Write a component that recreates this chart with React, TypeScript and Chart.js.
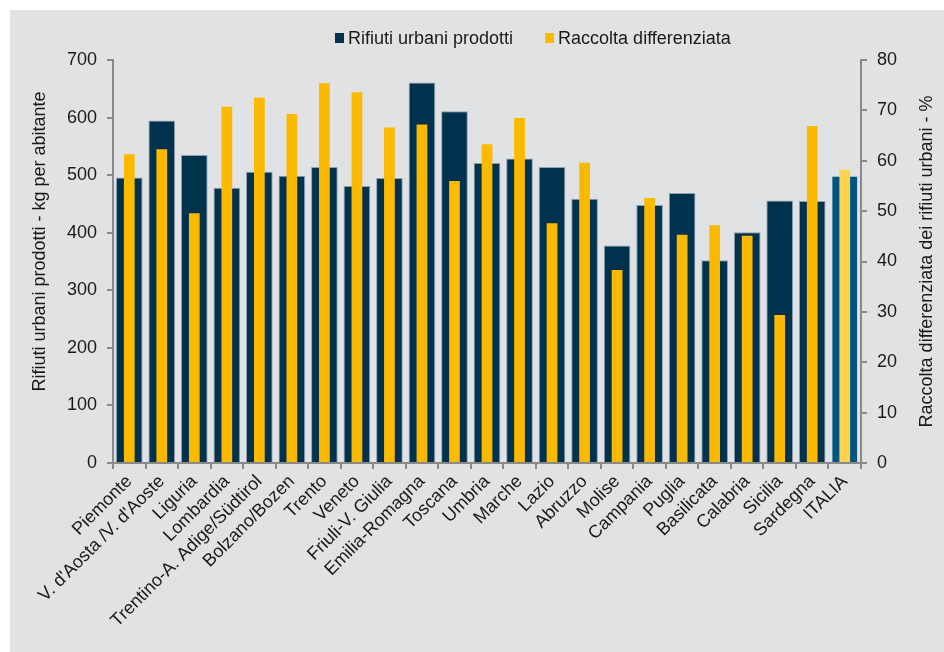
import React, { useEffect, useRef } from "react";
import { Chart, registerables } from "chart.js";

Chart.register(...registerables);

// Regions of Italy plus the national total
const regions = [
  "Piemonte",
  "V. d'Aosta /V. d'Aoste",
  "Liguria",
  "Lombardia",
  "Trentino-A. Adige/Südtirol",
  "Bolzano/Bozen",
  "Trento",
  "Veneto",
  "Friuli-V. Giulia",
  "Emilia-Romagna",
  "Toscana",
  "Umbria",
  "Marche",
  "Lazio",
  "Abruzzo",
  "Molise",
  "Campania",
  "Puglia",
  "Basilicata",
  "Calabria",
  "Sicilia",
  "Sardegna",
  "ITALIA",
];

// Municipal waste produced, kg per inhabitant (left axis)
const wastePerCapita = [
  496, 595, 535, 478, 506, 499, 514, 481, 495, 661, 611, 521, 529, 514, 459,
  378, 448, 469, 352, 401, 456, 455, 499,
];

// Separate collection share of municipal waste, % (right axis)
const separateCollection = [
  61.3, 62.3, 49.6, 70.7, 72.5, 69.3, 75.4, 73.6, 66.6, 67.2, 56.0, 63.3, 68.5,
  47.6, 59.6, 38.3, 52.6, 45.3, 47.2, 45.1, 29.4, 66.9, 58.2,
];

const kgAxisMax = 700;
const kgAxisStep = 100;
const pctAxisMax = 80;
const pctAxisStep = 10;

const seriesNames = ["Rifiuti urbani prodotti", "Raccolta differenziata"];
const kgAxisTitle = "Rifiuti urbani prodotti - kg per abitante";
const pctAxisTitle = "Raccolta differenziata dei rifiuti urbani - %";
const totalLabel = "ITALIA";

const FONT = "'Liberation Sans', Arial, Helvetica, sans-serif";
const TEXT = "#1a1a1a";
const AXIS = "#8a8a8a";
const PANEL = "#e1e2e4";
const NAVY = "#00324d";
const NAVY_TOTAL = "#005581";
const GOLD = "#fbba00";
const GOLD_TOTAL = "#ffd24f";

const decorations = {
  id: "decorations",
  afterDraw(chart: any) {
    const { ctx, chartArea } = chart;
    ctx.save();
    ctx.font = `18px ${FONT}`;
    ctx.textBaseline = "middle";
    ctx.textAlign = "left";

    // legend: small square marker followed by the series name
    const legendColors = [NAVY, GOLD];
    let x = 325;
    const y = 28;
    chart.data.datasets.forEach((ds: any, i: number) => {
      ctx.fillStyle = legendColors[i];
      ctx.fillRect(x, y - 5, 9, 10);
      x += 13;
      ctx.fillStyle = TEXT;
      ctx.fillText(ds.label, x, y + 1);
      x += ctx.measureText(ds.label).width + 32;
    });

    // vertical axis titles, both reading bottom to top
    ctx.textAlign = "center";
    ctx.fillStyle = TEXT;
    const midY = (chartArea.top + chartArea.bottom) / 2;
    ctx.save();
    ctx.translate(30, midY - 20);
    ctx.rotate(-Math.PI / 2);
    ctx.fillText(kgAxisTitle, 0, 0);
    ctx.restore();

    ctx.save();
    ctx.translate(chartArea.right + 66, midY);
    ctx.rotate(-Math.PI / 2);
    ctx.fillText(pctAxisTitle, 0, 0);
    ctx.restore();

    ctx.restore();
  },
};

export default function App() {
  const canvasRef = useRef<HTMLCanvasElement | null>(null);

  useEffect(() => {
    const canvas = canvasRef.current;
    if (!canvas) return;

    const tickFont = { family: FONT, size: 18 };

    const chart = new Chart(canvas, {
      type: "bar",
      data: {
        labels: regions,
        datasets: [
          {
            label: seriesNames[0],
            data: wastePerCapita,
            yAxisID: "y",
            order: 1,
            grouped: false,
            backgroundColor: regions.map((r) => (r === totalLabel ? NAVY_TOTAL : NAVY)),
            borderColor: regions.map((r) => (r === totalLabel ? "#d6dde3" : "#8ea1b0")),
            borderWidth: 1,
            categoryPercentage: 1,
            barPercentage: 0.82,
          } as any,
          {
            label: seriesNames[1],
            data: separateCollection,
            yAxisID: "y2",
            order: 0,
            grouped: false,
            backgroundColor: regions.map((r) => (r === totalLabel ? GOLD_TOTAL : GOLD)),
            borderWidth: 0,
            categoryPercentage: 1,
            barPercentage: 0.33,
          } as any,
        ],
      },
      options: {
        animation: false,
        responsive: true,
        maintainAspectRatio: false,
        layout: { padding: { top: 50, left: 0, right: 0, bottom: 0 } },
        plugins: {
          legend: { display: false },
          tooltip: { enabled: false },
        },
        scales: {
          x: {
            offset: true,
            grid: {
              offset: true,
              drawOnChartArea: false,
              drawTicks: true,
              tickLength: 6,
              color: AXIS,
              lineWidth: 2,
            },
            border: { display: true, color: AXIS, width: 2 },
            ticks: {
              autoSkip: false,
              maxRotation: 45,
              minRotation: 45,
              padding: 2,
              color: TEXT,
              font: tickFont,
            },
            afterFit(scale: any) {
              scale.height = 189;
            },
          },
          y: {
            position: "left",
            min: 0,
            max: kgAxisMax,
            grid: {
              drawOnChartArea: false,
              drawTicks: true,
              tickLength: 6,
              color: AXIS,
              lineWidth: 2,
            },
            border: { display: true, color: AXIS, width: 2 },
            ticks: {
              stepSize: kgAxisStep,
              padding: 10,
              color: TEXT,
              font: tickFont,
            },
            afterFit(scale: any) {
              scale.width = 103;
            },
          },
          y2: {
            position: "right",
            min: 0,
            max: pctAxisMax,
            grid: {
              drawOnChartArea: false,
              drawTicks: true,
              tickLength: 6,
              color: AXIS,
              lineWidth: 2,
            },
            border: { display: true, color: AXIS, width: 2 },
            ticks: {
              stepSize: pctAxisStep,
              padding: 10,
              color: TEXT,
              font: tickFont,
            },
            afterFit(scale: any) {
              scale.width = 83;
            },
          },
        },
      },
      plugins: [decorations],
    });

    return () => chart.destroy();
  }, []);

  return (
    <div
      style={{
        position: "fixed",
        left: 10,
        top: 10,
        width: 934,
        height: 642,
        background: PANEL,
      }}
    >
      <canvas ref={canvasRef} />
    </div>
  );
}
